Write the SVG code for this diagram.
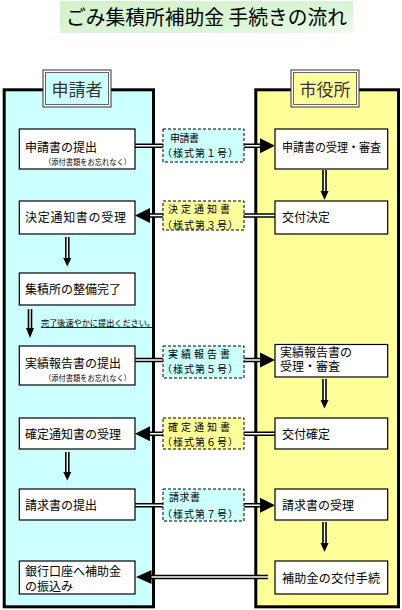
<svg xmlns="http://www.w3.org/2000/svg" width="402" height="610" viewBox="0 0 402 610">
<style>
text{font-family:"Noto Sans CJK JP","Noto Sans CJK SC",sans-serif;fill:#000}
.t{font-size:12px}
.s{font-size:7.5px}
.m{font-size:10px}
.box{fill:#fff;stroke:#000;stroke-width:1.2}
.dc{fill:#ccffff;stroke:#000;stroke-width:1;stroke-dasharray:3,2}
.dy{fill:#ffff99;stroke:#000;stroke-width:1;stroke-dasharray:3,2}
.dlo{stroke:#000;stroke-width:4.6;fill:none}
.dli{stroke:#fff;stroke-width:1.4;fill:none}
.ah{fill:#000}
</style>
<defs>
<linearGradient id="tg" x1="0" y1="0" x2="1" y2="1">
<stop offset="0" stop-color="#d2f2cb"/>
<stop offset="0.7" stop-color="#dcf6d7"/>
<stop offset="1" stop-color="#f0fbee"/>
</linearGradient>
</defs>
<rect width="402" height="610" fill="#fff"/>
<g id="title">
<rect x="60" y="1" width="293" height="32" fill="url(#tg)"/>
<text x="66" y="25" style="font-size:20px" textLength="281" lengthAdjust="spacingAndGlyphs">ごみ集積所補助金 手続きの流れ</text>
</g>
<g id="panel-applicant">
<rect x="4.2" y="89.8" width="149.3" height="517" fill="#ccffff" stroke="#000" stroke-width="3"/>
<rect x="43" y="70" width="68" height="37" fill="#fff" stroke="#333" stroke-width="1"/>
<rect x="45.5" y="72.5" width="63" height="32" fill="#ccffff" stroke="#666" stroke-width="1"/>
<text x="77" y="96" text-anchor="middle" style="font-size:17px;fill:#333">申請者</text>
</g>
<g id="panel-city">
<rect x="255.8" y="89.8" width="142.7" height="517" fill="#ffff99" stroke="#000" stroke-width="3"/>
<rect x="291" y="70" width="68" height="37" fill="#fff" stroke="#333" stroke-width="1"/>
<rect x="293.5" y="72.5" width="63" height="32" fill="#ffff99" stroke="#666" stroke-width="1"/>
<text x="325" y="96" text-anchor="middle" style="font-size:17px;fill:#333">市役所</text>
</g>
<g id="connectors">
<path class="dlo" d="M135,145.8H163M244,145.8H261"/>
<path class="dli" d="M135,145.8H163M244,145.8H261"/>
<polygon class="ah" points="260,138.3 275,145.8 260,153.3"/>
<path class="dlo" d="M275,215.5H244M163,215.5H149"/>
<path class="dli" d="M275,215.5H244M163,215.5H149"/>
<polygon class="ah" points="150,208 135,215.5 150,223"/>
<path class="dlo" d="M135,360H163M244,360H261"/>
<path class="dli" d="M135,360H163M244,360H261"/>
<polygon class="ah" points="260,352.5 275,360 260,367.5"/>
<path class="dlo" d="M275,433.7H244M163,433.7H149"/>
<path class="dli" d="M275,433.7H244M163,433.7H149"/>
<polygon class="ah" points="150,426.2 135,433.7 150,441.2"/>
<path class="dlo" d="M135,505.3H163M244,505.3H261"/>
<path class="dli" d="M135,505.3H163M244,505.3H261"/>
<polygon class="ah" points="260,497.8 275,505.3 260,512.8"/>
<path class="dlo" d="M268,577H150"/>
<path class="dli" d="M268,577H150"/>
<polygon class="ah" points="151.5,570 136,577 151.5,584"/>
<path class="dlo" d="M324.5,170V192M324.5,379V401M324.5,522V544"/>
<path class="dli" d="M324.5,170V192M324.5,379V401M324.5,522V544"/>
<polygon class="ah" points="320.5,191 328.5,191 324.5,200"/>
<polygon class="ah" points="320.5,400 328.5,400 324.5,408.5"/>
<polygon class="ah" points="320.5,543 328.5,543 324.5,552"/>
<path class="dlo" d="M67.3,237V259M30,309V329M67.3,452V473"/>
<path class="dli" d="M67.3,237V259M30,309V329M67.3,452V473"/>
<polygon class="ah" points="63.3,258 71.3,258 67.3,266.5"/>
<polygon class="ah" points="26,328 34,328 30,338"/>
<polygon class="ah" points="63.3,472 71.3,472 67.3,480.5"/>
<text x="41" y="326" style="font-size:8.5px" text-decoration="underline" textLength="114" lengthAdjust="spacingAndGlyphs">完了後速やかに提出ください。</text>
</g>
<g id="L1"><rect class="box" x="19.3" y="129" width="115.7" height="40"/>
<text class="t" x="25" y="152">申請書の提出</text>
<text class="s" x="44" y="165" textLength="87" lengthAdjust="spacingAndGlyphs">（添付書類をお忘れなく）</text></g>
<g id="L2"><rect class="box" x="19.3" y="201" width="115.7" height="33"/>
<text class="t" x="25" y="222" textLength="101" lengthAdjust="spacing">決定通知書の受理</text></g>
<g id="L3"><rect class="box" x="19.3" y="273" width="115.7" height="32"/>
<text class="t" x="25" y="294">集積所の整備完了</text></g>
<g id="L4"><rect class="box" x="19.3" y="346" width="115.7" height="39"/>
<text class="t" x="25" y="368">実績報告書の提出</text>
<text class="s" x="44" y="381" textLength="87" lengthAdjust="spacingAndGlyphs">（添付書類をお忘れなく）</text></g>
<g id="L5"><rect class="box" x="19.3" y="418" width="115.7" height="31"/>
<text class="t" x="25" y="438.5">確定通知書の受理</text></g>
<g id="L6"><rect class="box" x="19.3" y="489" width="115.7" height="31"/>
<text class="t" x="25" y="509.5">請求書の提出</text></g>
<g id="L7"><rect class="box" x="19.3" y="561" width="115.7" height="33"/>
<text class="t"><tspan x="25" y="575.5">銀行口座へ補助金</tspan><tspan x="25" y="590.5">の振込み</tspan></text></g>
<g id="M1"><rect class="dc" x="163" y="129" width="81" height="33"/>
<text class="m" x="170" y="141.5" textLength="29" lengthAdjust="spacing">申請書</text>
<text class="m" x="162" y="157" textLength="76" lengthAdjust="spacing">（様式第１号）</text></g>
<g id="M2"><rect class="dy" x="163" y="201" width="81" height="29"/>
<text class="m" x="168" y="213" textLength="62" lengthAdjust="spacing">決定通知書</text>
<text class="m" x="162" y="228.5" textLength="76" lengthAdjust="spacing">（様式第３号）</text></g>
<g id="M4"><rect class="dc" x="163" y="346" width="81" height="32"/>
<text class="m" x="168" y="357.5" textLength="62" lengthAdjust="spacing">実績報告書</text>
<text class="m" x="162" y="373" textLength="76" lengthAdjust="spacing">（様式第５号）</text></g>
<g id="M5"><rect class="dy" x="163" y="418" width="81" height="31"/>
<text class="m" x="168" y="431" textLength="62" lengthAdjust="spacing">確定通知書</text>
<text class="m" x="162" y="446" textLength="76" lengthAdjust="spacing">（様式第６号）</text></g>
<g id="M6"><rect class="dc" x="163" y="489" width="81" height="32"/>
<text class="m" x="169" y="501" textLength="31" lengthAdjust="spacing">請求書</text>
<text class="m" x="162" y="518" textLength="76" lengthAdjust="spacing">（様式第７号）</text></g>
<g id="R1"><rect class="box" x="275" y="129" width="112.7" height="40"/>
<text class="t" x="282" y="151.5" textLength="99" lengthAdjust="spacingAndGlyphs">申請書の受理・審査</text></g>
<g id="R2"><rect class="box" x="275" y="201" width="112.7" height="33"/>
<text class="t" x="282" y="222">交付決定</text></g>
<g id="R4"><rect class="box" x="275" y="344.5" width="112.7" height="32.5"/>
<text class="t"><tspan x="280" y="356.5">実績報告書の</tspan><tspan x="280" y="371">受理・審査</tspan></text></g>
<g id="R5"><rect class="box" x="275" y="418" width="112.7" height="31"/>
<text class="t" x="282" y="438.5">交付確定</text></g>
<g id="R6"><rect class="box" x="275" y="489" width="112.7" height="31"/>
<text class="t" x="282" y="509.5">請求書の受理</text></g>
<g id="R7"><rect class="box" x="275" y="561" width="112.7" height="33"/>
<text class="t" x="282" y="583" textLength="98" lengthAdjust="spacing">補助金の交付手続</text></g>
</svg>
